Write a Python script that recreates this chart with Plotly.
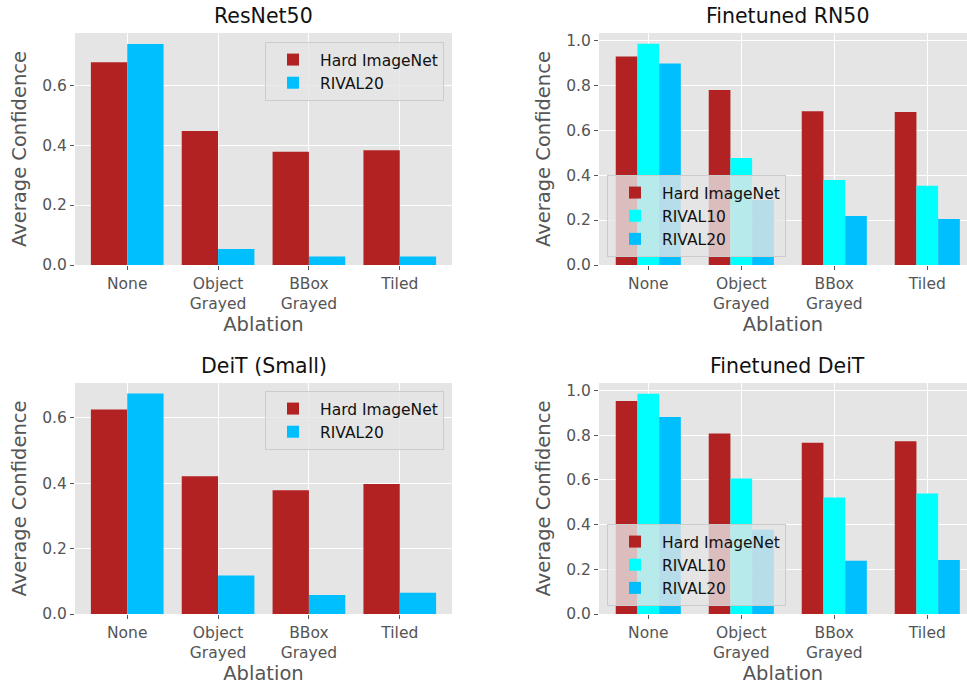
import plotly.graph_objects as go

categories = ["None", "Object<br>Grayed", "BBox<br>Grayed", "Tiled"]
cat_pos = [0, 1, 2, 3]

# ResNet50
rn50_hard = [0.676, 0.447, 0.378, 0.383]
rn50_r20 = [0.737, 0.053, 0.028, 0.028]
# Finetuned RN50
ftrn_hard = [0.927, 0.779, 0.684, 0.681]
ftrn_r10 = [0.984, 0.476, 0.378, 0.352]
ftrn_r20 = [0.896, 0.289, 0.218, 0.205]
# DeiT (Small)
deit_hard = [0.625, 0.421, 0.378, 0.397]
deit_r20 = [0.674, 0.118, 0.058, 0.065]
# Finetuned DeiT
ftdeit_hard = [0.952, 0.807, 0.766, 0.772]
ftdeit_r10 = [0.985, 0.606, 0.521, 0.539]
ftdeit_r20 = [0.881, 0.377, 0.238, 0.241]

titles = ["ResNet50", "Finetuned RN50", "DeiT (Small)", "Finetuned DeiT"]

C_HARD = "#B22222"
C_R10 = "#00FFFF"
C_R20 = "#00BFFF"
FONT = "DejaVu Sans"
GRAYTXT = "#555555"

fig = go.Figure()

W, H = 967, 685
def px_x(a, b):
    return [a / W, b / W]
def px_y(top, bot):
    return [1 - bot / H, 1 - top / H]

panels = [
    dict(ax="", xd=px_x(75, 452), yd=px_y(33, 265), xr=[-0.575, 3.575], ymax=0.774,
         ytv=[0, 0.2, 0.4, 0.6], series=[("Hard ImageNet", rn50_hard, C_HARD), ("RIVAL20", rn50_r20, C_R20)],
         leg=dict(x=444 / W, y=1 - 42 / H, xanchor="right", yanchor="top")),
    dict(ax="2", xd=px_x(599, 967), yd=px_y(33, 265), xr=[-0.53, 3.427], ymax=1.032,
         ytv=[0, 0.2, 0.4, 0.6, 0.8, 1.0], series=[("Hard ImageNet", ftrn_hard, C_HARD), ("RIVAL10", ftrn_r10, C_R10), ("RIVAL20", ftrn_r20, C_R20)],
         leg=dict(x=607 / W, y=1 - 257 / H, xanchor="left", yanchor="bottom")),
    dict(ax="3", xd=px_x(75, 452), yd=px_y(383, 614), xr=[-0.575, 3.575], ymax=0.706,
         ytv=[0, 0.2, 0.4, 0.6], series=[("Hard ImageNet", deit_hard, C_HARD), ("RIVAL20", deit_r20, C_R20)],
         leg=dict(x=444 / W, y=1 - 391 / H, xanchor="right", yanchor="top")),
    dict(ax="4", xd=px_x(599, 967), yd=px_y(383, 614), xr=[-0.53, 3.427], ymax=1.033,
         ytv=[0, 0.2, 0.4, 0.6, 0.8, 1.0], series=[("Hard ImageNet", ftdeit_hard, C_HARD), ("RIVAL10", ftdeit_r10, C_R10), ("RIVAL20", ftdeit_r20, C_R20)],
         leg=dict(x=607 / W, y=1 - 606 / H, xanchor="left", yanchor="bottom")),
]

layout = dict(
    width=W, height=H, margin=dict(l=0, r=0, t=0, b=0),
    paper_bgcolor="white", plot_bgcolor="#E5E5E5",
    barmode="overlay", font=dict(family=FONT, color=GRAYTXT),
    annotations=[],
)

for i, p in enumerate(panels):
    ax = p["ax"]
    n = len(p["series"])
    total = 0.8 if n == 2 else 0.7
    w = total / n
    legname = "legend" + ax
    for j, (name, vals, col) in enumerate(p["series"]):
        fig.add_trace(go.Bar(
            x=cat_pos, y=vals, name=name, width=w, offset=-total / 2 + j * w,
            marker=dict(color=col, line=dict(width=0)),
            xaxis="x" + ax, yaxis="y" + ax, legend=legname, showlegend=True,
        ))
    layout["xaxis" + ax] = dict(
        domain=p["xd"], anchor="y" + ax, range=p["xr"], tickvals=cat_pos, ticktext=categories,
        showgrid=True, gridcolor="white", gridwidth=1, zeroline=False,
        ticks="outside", ticklen=4, tickcolor=GRAYTXT, tickfont=dict(size=15.5, color=GRAYTXT, family=FONT),
        title=dict(text="Ablation", font=dict(size=19.5, color=GRAYTXT, family=FONT), standoff=4),
        automargin=False,
    )
    layout["yaxis" + ax] = dict(
        domain=p["yd"], anchor="x" + ax, range=[0, p["ymax"]], tickvals=p["ytv"], tickformat=".1f",
        showgrid=True, gridcolor="white", gridwidth=1, zeroline=False,
        ticks="outside", ticklen=4, tickcolor=GRAYTXT, tickfont=dict(size=15.5, color=GRAYTXT, family=FONT),
        title=dict(text="Average Confidence", font=dict(size=19.5, color=GRAYTXT, family=FONT), standoff=10),
        automargin=False,
    )
    layout[legname] = dict(
        x=p["leg"]["x"], y=p["leg"]["y"], xanchor=p["leg"]["xanchor"], yanchor=p["leg"]["yanchor"],
        xref="paper", yref="paper",
        bgcolor="rgba(229,229,229,0.8)", bordercolor="#CCCCCC", borderwidth=1,
        font=dict(size=15.5, color="#111111", family=FONT), traceorder="normal",
        itemwidth=44,
    )
    top_px = p["yd"][1]
    layout["annotations"].append(dict(
        text=titles[i], xref="x" + ax, yref="paper", x=1.5, y=top_px, yshift=3,
        xanchor="center", yanchor="bottom", showarrow=False,
        font=dict(size=20.5, color="#111111", family=FONT),
    ))

fig.update_layout(**layout)
fig.write_html("out.html", config={"displayModeBar": False},
               post_script="document.body.style.margin='0';document.body.style.overflow='hidden';")
